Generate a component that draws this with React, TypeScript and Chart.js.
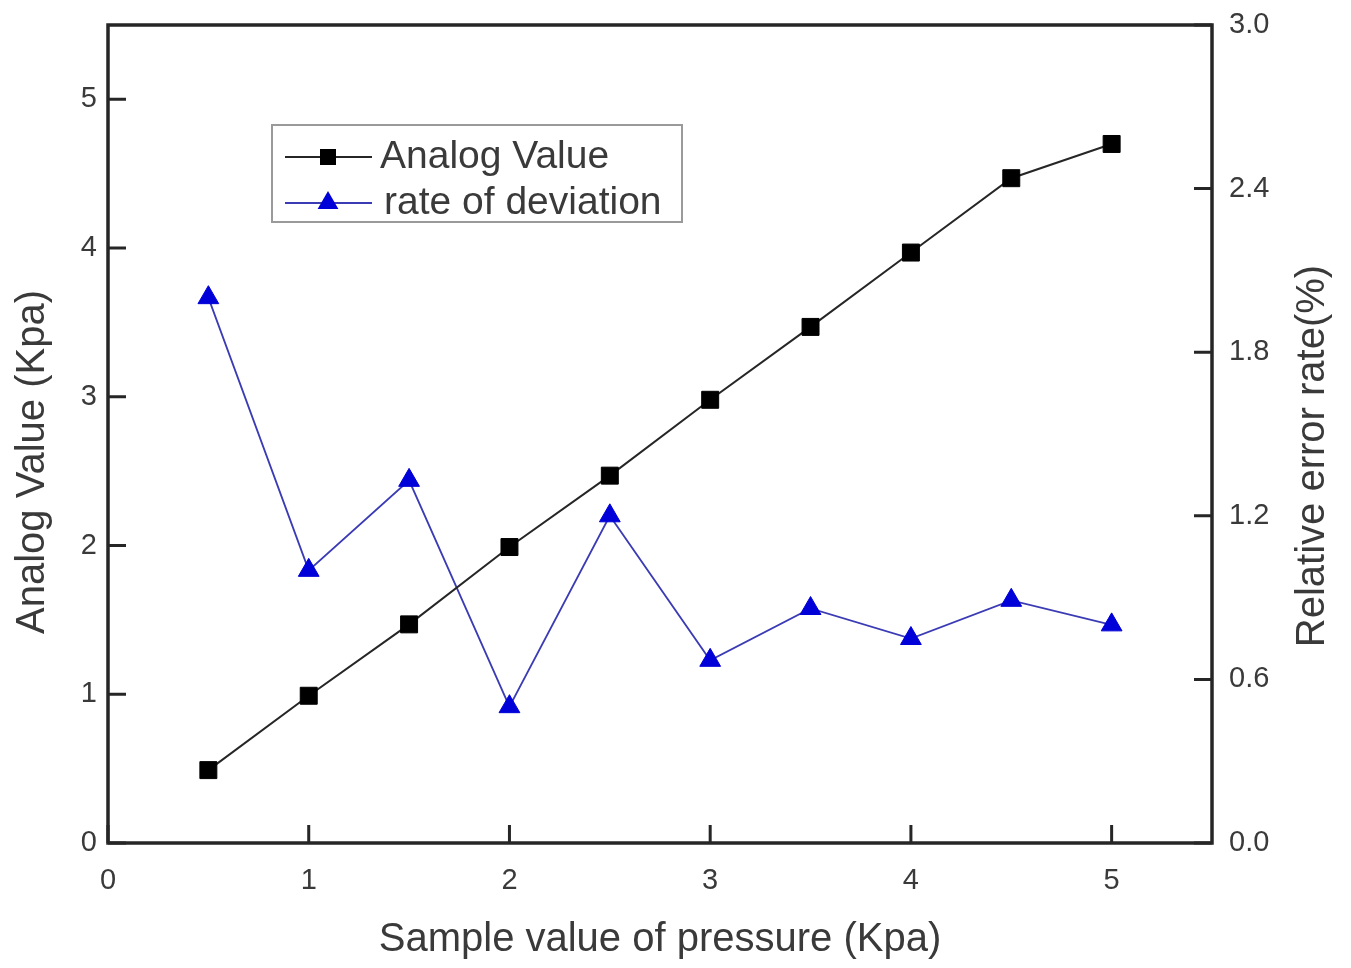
import React, { useEffect, useRef } from "react";
import { Chart, registerables } from "chart.js";

Chart.register(...registerables);

const samplePressure = [0.5, 1, 1.5, 2, 2.5, 3, 3.5, 4, 4.5, 5];
const analogValue = [0.49, 0.99, 1.47, 1.99, 2.47, 2.98, 3.47, 3.97, 4.47, 4.70];
const deviationRate = [2.0, 1.0, 1.33, 0.5, 1.2, 0.67, 0.86, 0.75, 0.89, 0.8];
const xTicks = [0, 1, 2, 3, 4, 5];
const yLeftTicks = [0, 1, 2, 3, 4, 5];
const yRightTicks = [0, 0.6, 1.2, 1.8, 2.4, 3.0];

const FONT = "'Liberation Sans', Arial, sans-serif";
const TEXT = "#3a3a3a";
const AXIS = "#262626";
const BLUE_LINE = "#3b3bb5";
const BLUE_FILL = "#0000d8";

const framePlugin = {
  id: "frame",
  afterDraw(chart: any) {
    const { ctx, chartArea: a, scales } = chart;
    ctx.save();
    ctx.strokeStyle = AXIS;
    ctx.lineWidth = 3;
    ctx.lineCap = "butt";
    const tl = 18;
    ctx.beginPath();
    for (const v of xTicks) {
      const px = scales.x.getPixelForValue(v);
      ctx.moveTo(px, a.bottom);
      ctx.lineTo(px, a.bottom - tl);
    }
    for (const v of yLeftTicks) {
      const py = scales.y.getPixelForValue(v);
      ctx.moveTo(a.left, py);
      ctx.lineTo(a.left + tl, py);
    }
    for (const v of yRightTicks) {
      const py = scales.y1.getPixelForValue(v);
      ctx.moveTo(a.right, py);
      ctx.lineTo(a.right - tl, py);
    }
    ctx.stroke();
    ctx.lineWidth = 3.5;
    ctx.strokeRect(a.left, a.top, a.right - a.left, a.bottom - a.top);

    // axis titles
    ctx.fillStyle = TEXT;
    ctx.font = `40px ${FONT}`;
    ctx.textAlign = "center";
    ctx.textBaseline = "middle";
    ctx.fillText("Sample value of pressure (Kpa)", (a.left + a.right) / 2, 940);
    ctx.save();
    ctx.translate(33, 462);
    ctx.rotate(-Math.PI / 2);
    ctx.fillText("Analog Value (Kpa)", 0, 0);
    ctx.restore();
    ctx.save();
    ctx.translate(1313, 456);
    ctx.rotate(-Math.PI / 2);
    ctx.fillText("Relative error rate(%)", 0, 0);
    ctx.restore();

    // legend
    const lx = 272, ly = 125, lw = 410, lh = 97;
    ctx.fillStyle = "#ffffff";
    ctx.fillRect(lx, ly, lw, lh);
    ctx.strokeStyle = "#9a9a9a";
    ctx.lineWidth = 2;
    ctx.strokeRect(lx, ly, lw, lh);
    const ds = chart.data.datasets;
    const rows = [157, 203];
    ds.forEach((d: any, i: number) => {
      const y = rows[i];
      ctx.strokeStyle = d.borderColor;
      ctx.lineWidth = d.borderWidth;
      ctx.beginPath();
      ctx.moveTo(285, y);
      ctx.lineTo(372, y);
      ctx.stroke();
      ctx.fillStyle = d.pointBackgroundColor;
      ctx.beginPath();
      if (d.pointStyle === "rect") {
        ctx.rect(328 - 8, y - 8, 16, 16);
      } else {
        const r = 12;
        ctx.moveTo(328, y - r);
        ctx.lineTo(328 + r * 0.866, y + r / 2);
        ctx.lineTo(328 - r * 0.866, y + r / 2);
        ctx.closePath();
      }
      ctx.fill();
      ctx.fillStyle = TEXT;
      ctx.font = `39px ${FONT}`;
      ctx.textAlign = "left";
      ctx.textBaseline = "middle";
      ctx.fillText(d.label, i === 0 ? 380 : 384, y);
    });
    ctx.restore();
  },
};

export default function App() {
  const ref = useRef<HTMLCanvasElement>(null);
  useEffect(() => {
    document.body.style.margin = "0";
    const chart = new Chart(ref.current!, {
      type: "line",
      data: {
        datasets: [
          {
            label: "Analog Value",
            data: samplePressure.map((x, i) => ({ x, y: analogValue[i] })),
            borderColor: "#262626",
            borderWidth: 2,
            pointStyle: "rect",
            pointRadius: 12,
            pointBackgroundColor: "#000000",
            pointBorderColor: "#000000",
            pointBorderWidth: 1,
            yAxisID: "y",
          },
          {
            label: "rate of deviation",
            data: samplePressure.map((x, i) => ({ x, y: deviationRate[i] })),
            borderColor: BLUE_LINE,
            borderWidth: 1.8,
            pointStyle: "triangle",
            pointRadius: 12,
            pointBackgroundColor: BLUE_FILL,
            pointBorderColor: BLUE_FILL,
            pointBorderWidth: 1,
            yAxisID: "y1",
          },
        ],
      },
      options: {
        animation: false,
        responsive: false,
        layout: { padding: { top: 25, left: 0, right: 0, bottom: 0 } },
        plugins: { legend: { display: false }, tooltip: { enabled: false } },
        scales: {
          x: {
            type: "linear",
            min: 0,
            max: 5.5,
            grid: { display: false, drawTicks: false },
            border: { display: false },
            afterBuildTicks: (s: any) => { s.ticks = xTicks.map((v) => ({ value: v })); },
            afterFit: (s: any) => { s.height = 125; s.paddingLeft = 0; s.paddingRight = 0; },
            ticks: { color: TEXT, font: { size: 29, family: FONT }, padding: 21, maxRotation: 0 },
          },
          y: {
            type: "linear",
            position: "left",
            min: 0,
            max: 5.5,
            grid: { display: false, drawTicks: false },
            border: { display: false },
            afterBuildTicks: (s: any) => { s.ticks = yLeftTicks.map((v) => ({ value: v })); },
            afterFit: (s: any) => { s.width = 108; s.paddingTop = 0; s.paddingBottom = 0; },
            ticks: { color: TEXT, font: { size: 29, family: FONT }, padding: 11 },
          },
          y1: {
            type: "linear",
            position: "right",
            min: 0,
            max: 3.0,
            grid: { display: false, drawTicks: false },
            border: { display: false },
            afterBuildTicks: (s: any) => { s.ticks = yRightTicks.map((v) => ({ value: v })); },
            afterFit: (s: any) => { s.width = 139; s.paddingTop = 0; s.paddingBottom = 0; },
            ticks: {
              color: TEXT,
              font: { size: 29, family: FONT },
              padding: 17,
              callback: (v: any) => Number(v).toFixed(1),
            },
          },
        },
      },
      plugins: [framePlugin],
    } as any);
    return () => chart.destroy();
  }, []);
  return (
    <div style={{ width: 1351, height: 968 }}>
      <canvas ref={ref} width={1351} height={968} style={{ display: "block" }} />
    </div>
  );
}
